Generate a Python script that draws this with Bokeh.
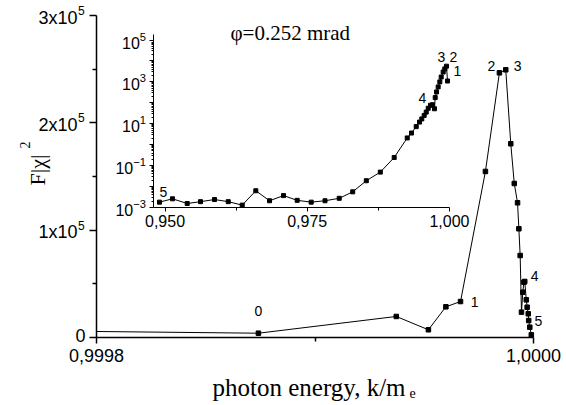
import math
from bokeh.plotting import figure
from bokeh.models import (Range1d, LinearAxis, FixedTicker, LogTickFormatter, Label,
                          LogScale, CustomJSTickFormatter)
from bokeh.embed import file_html
from bokeh.resources import INLINE

# ---------------- data ----------------
# main panel: photon energy k/m_e vs F|chi|^2
main_k = [0.9998, 0.9998741, 0.9999372, 0.9999519, 0.9999599, 0.9999666, 0.9999780,
          0.9999844, 0.9999873, 0.9999896, 0.9999912, 0.9999927, 0.9999933, 0.9999939,
          0.9999945, 0.9999951, 0.9999956, 0.9999960, 0.9999967, 0.9999971, 0.9999976,
          0.9999978, 0.9999983, 0.9999990]
main_F = [5600, 4000, 19600, 7200, 28600, 33500, 154700,
          246600, 249400, 180500, 143500, 125500, 101300, 76400,
          23600, 42200, 51500, 52200, 35100, 28200, 22100,
          15800, 9600, 2500]
main_marks = ["0", "1", "2", "3", "4", "5"]
main_mark_idx = [1, 5, 7, 8, 17, 23]

# inset panel (log scale)
inset_k = [0.94903, 0.95132, 0.95390, 0.95624, 0.95870, 0.96111, 0.96357, 0.96596,
           0.96837, 0.97083, 0.97323, 0.97569, 0.97812, 0.98062, 0.98299, 0.98538,
           0.98784, 0.99028, 0.99257, 0.99332, 0.99415, 0.99473, 0.99513, 0.99555,
           0.99591, 0.99626, 0.99666, 0.99701, 0.99736, 0.99749, 0.99772, 0.99801,
           0.99830, 0.99854, 0.99889, 0.99917, 0.99947, 0.99965]
inset_F = [1.8e-3, 2.6e-3, 1.55e-3, 1.9e-3, 2.4e-3, 1.9e-3, 1.3e-3, 6.3e-3,
           2.1e-3, 3.7e-3, 2.2e-3, 1.8e-3, 2.1e-3, 2.75e-3, 5.6e-3, 0.019,
           0.049, 0.245, 2.1, 3.6, 7.3, 12, 17, 25,
           36, 55, 76, 81, 52, 178, 331, 575,
           1000, 1700, 2950, 4170, 5620, 1100]
inset_marks = ["5", "4", "3", "2", "1"]
inset_mark_idx = [0, 26, 36, 36, 37]

# ticks
x_lo, x_hi = 0.9998, 1.0
y_lo, y_hi = 0.0, 3e5
x_major = [0.9998, 1.0]
x_minor = [0.9999]
y_major = [0, 1e5, 2e5, 3e5]
y_minor = [0.5e5, 1.5e5, 2.5e5]
y_major_base = ["0", "1x10", "2x10", "3x10"]
y_major_exp = ["", "5", "5", "5"]
ix_lo, ix_hi = 0.94789, 1.0
iy_lo, iy_hi = 1e-3, 1e5
ix_major = [0.950, 0.975, 1.000]
ix_minor = [0.9625, 0.9875]
iy_labeled = [1e-3, 1e-1, 1e1, 1e3, 1e5]
iy_decades = [1e-2, 1e0, 1e2, 1e4]
iy_minor = [m * 10.0 ** e for e in range(-3, 5) for m in range(2, 10)]

# ---------------- layout (canvas pixels, origin top-left of figure) ----------------
W, H = 566, 405
# main axes box
mL, mR, mT, mB = 96.0, 533.0, 15.0, 337.0
# inset axes box (left/right of x-axis, y of 1e-3 and 1e5)
iL, iR, iB, iT = 152.5, 449.0, 207.0, 39.5
iy_top_px = 34.0

def lin_range(v0, v1, p0, p1, total):
    k = (v1 - v0) / (p1 - p0)
    return Range1d(v0 - p0 * k, v1 + (total - p1) * k)

p = figure(width=W, height=H, output_backend="svg", toolbar_location=None, title=None,
           x_axis_type=None, y_axis_type=None,
           min_border=0, min_border_left=0, min_border_right=0,
           min_border_top=0, min_border_bottom=0)
p.x_range = lin_range(x_lo, x_hi, mL, mR, W)
yr = lin_range(y_hi, y_lo, mT, mB, H)
p.y_range = Range1d(yr.end, yr.start)
p.outline_line_color = None
p.background_fill_color = "white"
p.border_fill_color = "white"

dec = (iB - iT) / 8.0
p.extra_x_ranges = {"ix": lin_range(ix_lo, ix_hi, iL, iR, W)}
p.extra_y_ranges = {"iy": Range1d(10 ** (-3 - (H - iB) / dec), 10 ** (5 + iT / dec))}
p.extra_y_scales = {"iy": LogScale()}
iy_top = 10 ** (5 + (iT - iy_top_px) / dec)

SANS = "Liberation Sans"
SERIF = "Liberation Serif"

def style(ax, lw, tick_out, minor_out, size):
    ax.axis_line_width = lw
    ax.axis_line_color = "black"
    ax.major_tick_line_color = "black"
    ax.minor_tick_line_color = "black"
    ax.major_tick_line_width = lw
    ax.minor_tick_line_width = lw
    ax.major_tick_in = 0
    ax.minor_tick_in = 0
    ax.major_tick_out = tick_out
    ax.minor_tick_out = minor_out
    ax.major_label_text_font = SANS
    ax.major_label_text_font_size = size
    ax.major_label_text_color = "black"

# main axes
xax = LinearAxis(fixed_location=y_lo, bounds=(x_lo, x_hi),
                 ticker=FixedTicker(ticks=x_major, minor_ticks=x_minor),
                 formatter=CustomJSTickFormatter(code="return tick.toFixed(4).replace('.', ',')"))
yax = LinearAxis(fixed_location=x_lo, bounds=(y_lo, y_hi),
                 ticker=FixedTicker(ticks=y_major, minor_ticks=y_minor),
                 formatter=CustomJSTickFormatter(code="return ''"))
style(xax, 1.5, 6, 4, "18px")
style(yax, 1.5, 7, 4, "18px")
xax.major_label_standoff = 5
p.add_layout(xax, "below")
p.add_layout(yax, "left")

# inset axes
ixax = LinearAxis(x_range_name="ix", y_range_name="iy", fixed_location=iy_lo,
                  bounds=(ix_lo, ix_hi),
                  ticker=FixedTicker(ticks=ix_major, minor_ticks=ix_minor),
                  formatter=CustomJSTickFormatter(code="return tick.toFixed(3).replace('.', ',')"))
iyax = LinearAxis(x_range_name="ix", y_range_name="iy", fixed_location=ix_lo,
                  bounds=(iy_lo, iy_top),
                  ticker=FixedTicker(ticks=iy_labeled, minor_ticks=iy_minor),
                  formatter=LogTickFormatter())
iyax2 = LinearAxis(x_range_name="ix", y_range_name="iy", fixed_location=ix_lo,
                   bounds=(iy_lo, iy_top),
                   ticker=FixedTicker(ticks=iy_decades, minor_ticks=[]),
                   formatter=CustomJSTickFormatter(code="return ''"))
style(ixax, 1, 4, 3, "16px")
style(iyax, 1, 4, 2, "16px")
style(iyax2, 1, 4, 2, "16px")
iyax2.axis_line_color = None
for ax in (ixax, iyax, iyax2):
    ax.major_label_standoff = 3
p.add_layout(ixax, "below")
p.add_layout(iyax, "left")
p.add_layout(iyax2, "left")

# ---------------- glyphs ----------------
p.line(main_k, main_F, line_color="black", line_width=1)
p.scatter(main_k[1:], main_F[1:], marker="square", size=4.5, color="black")
p.line(inset_k, inset_F, x_range_name="ix", y_range_name="iy", line_color="black", line_width=1)
p.scatter(inset_k, inset_F, x_range_name="ix", y_range_name="iy",
          marker="square", size=4, color="black")

# ---------------- annotations ----------------
main_off = [(0, 22), (14, 0), (-8, 7), (12, 4), (10, 5), (7, 14)]
for t, i, (dx, dy) in zip(main_marks, main_mark_idx, main_off):
    p.add_layout(Label(x=main_k[i], y=main_F[i], x_offset=dx, y_offset=dy, text=t,
                       text_align="center", text_baseline="middle",
                       text_font=SANS, text_font_size="14px", text_color="black"))
inset_off = [(4, 10), (-8, 7), (-5, 9), (7, 9), (10, 10)]
for t, i, (dx, dy) in zip(inset_marks, inset_mark_idx, inset_off):
    p.add_layout(Label(x=inset_k[i], y=inset_F[i], x_offset=dx, y_offset=dy, text=t,
                       x_range_name="ix", y_range_name="iy",
                       text_align="center", text_baseline="middle",
                       text_font=SANS, text_font_size="14px", text_color="black"))

# main y tick labels with superscript exponent
for v, base, ex in zip(y_major, y_major_base, y_major_exp):
    if ex:
        p.add_layout(Label(x=x_lo, y=v, x_offset=-19, y_offset=-2, text=base,
                           text_align="right", text_baseline="middle",
                           text_font=SANS, text_font_size="18px", text_color="black"))
        p.add_layout(Label(x=x_lo, y=v, x_offset=-18.5, y_offset=5, text=ex,
                           text_align="left", text_baseline="middle",
                           text_font=SANS, text_font_size="12px", text_color="black"))
    else:
        p.add_layout(Label(x=x_lo, y=v, x_offset=-11, y_offset=2, text=base,
                           text_align="right", text_baseline="middle",
                           text_font=SANS, text_font_size="18px", text_color="black"))

# axis titles
p.add_layout(Label(x=x_lo, y=y_lo, x_offset=116, y_offset=-50, text="photon energy, k/m",
                   text_align="left", text_baseline="alphabetic",
                   text_font=SERIF, text_font_size="25px", text_color="black"))
p.add_layout(Label(x=x_lo, y=y_lo, x_offset=313, y_offset=-55, text="e",
                   text_align="left", text_baseline="alphabetic",
                   text_font=SERIF, text_font_size="14px", text_color="black"))
p.add_layout(Label(x=x_lo, y=y_lo, x_offset=-59, y_offset=152, text="F|\u03c7|",
                   angle=math.pi / 2, text_align="left", text_baseline="alphabetic",
                   text_font=SERIF, text_font_size="22px", text_color="black"))
p.add_layout(Label(x=x_lo, y=y_lo, x_offset=-72, y_offset=189, text="2",
                   angle=math.pi / 2, text_align="left", text_baseline="alphabetic",
                   text_font=SERIF, text_font_size="14px", text_color="black"))
p.add_layout(Label(x=x_lo, y=y_lo, x_offset=134, y_offset=305, text="\u03c6=0.252 mrad",
                   text_align="left", text_baseline="middle",
                   text_font=SERIF, text_font_size="21px", text_color="black"))

open("out.html", "w").write(file_html(p, INLINE))
